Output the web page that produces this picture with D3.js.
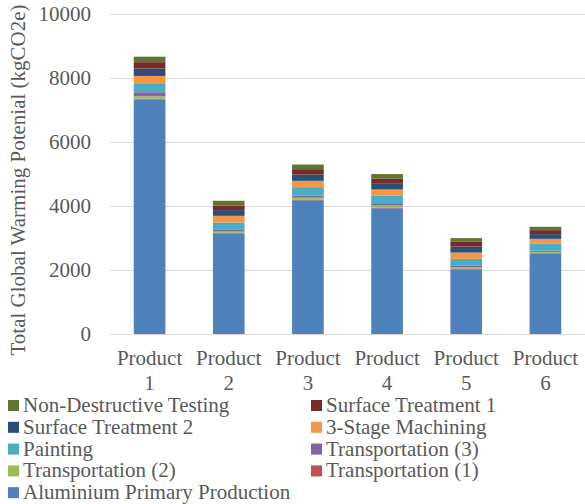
<!DOCTYPE html>
<html><head><meta charset="utf-8">
<script src="https://cdn.jsdelivr.net/npm/d3@7"></script>
<style>html,body{margin:0;padding:0;background:#fff;}svg{display:block;}
text{font-family:"Liberation Serif","Times New Roman",Times,serif;}</style>
</head><body>
<script>
const products = ["Product 1","Product 2","Product 3","Product 4","Product 5","Product 6"];
const seriesNames = ["Aluminium Primary Production","Transportation (1)","Transportation (2)","Transportation (3)","Painting","3-Stage Machining","Surface Treatment 2","Surface Treatment 1","Non-Destructive Testing"];
const aluminium = [7330, 3140, 4180, 3930, 2025, 2515];
const transport1 = [20, 20, 20, 20, 20, 20];
const transport2 = [80, 41, 63, 63, 42, 31];
const transport3 = [125, 53, 63, 75, 42, 42];
const painting = [280, 229, 263, 230, 219, 209];
const machining = [230, 210, 197, 198, 198, 157];
const surface2 = [230, 179, 197, 178, 188, 147];
const surface1 = [200, 144, 169, 167, 146, 125];
const ndt = [170, 147, 144, 137, 115, 104];
const yTicks = [0, 2000, 4000, 6000, 8000, 10000];
const legendOrder = ["Non-Destructive Testing","Surface Treatment 1","Surface Treatment 2","3-Stage Machining","Painting","Transportation (3)","Transportation (2)","Transportation (1)","Aluminium Primary Production"];
const colors = ["#4F81BD","#C0504D","#9BBB59","#8064A2","#4BACC6","#F79646","#2C4D75","#772C2A","#5F7530"];

const allSeries = [aluminium, transport1, transport2, transport3, painting, machining, surface2, surface1, ndt];
const table = products.map((p, i) => {
  const row = {product: p};
  seriesNames.forEach((s, j) => row[s] = allSeries[j][i]);
  return row;
});

const W = 585, H = 504;
const svg = d3.select("body").append("svg").attr("width", W).attr("height", H);
const grey = "#595959";
const fs = "21px";

const x = d3.scaleBand().domain(products).range([110, 585]).paddingInner(0.6).paddingOuter(0.3);
const y = d3.scaleLinear().domain([0, 10000]).range([334, 14]);
const color = d3.scaleOrdinal().domain(seriesNames).range(colors);

svg.append("g").selectAll("line").data(yTicks).join("line")
  .attr("x1", 110).attr("x2", 585)
  .attr("y1", d => y(d) + 0.5).attr("y2", d => y(d) + 0.5)
  .attr("stroke", "#D9D9D9").attr("stroke-width", 1);

const yAxis = d3.axisLeft(y).tickValues(yTicks).tickSize(0).tickPadding(0).tickFormat(d3.format("d"));
const yg = svg.append("g").attr("transform", "translate(91,0)").call(yAxis);
yg.select(".domain").remove();
yg.attr("font-family", null).attr("font-size", null);
yg.selectAll("text").style("font-size", fs).attr("fill", grey);

const stacked = d3.stack().keys(seriesNames)(table);
svg.append("g").selectAll("g").data(stacked).join("g")
  .attr("fill", d => color(d.key))
  .selectAll("rect").data(d => d).join("rect")
  .attr("x", d => x(d.data.product))
  .attr("width", x.bandwidth())
  .attr("y", d => y(d[1]))
  .attr("height", d => y(d[0]) - y(d[1]));

const xg = svg.append("g");
products.forEach(p => {
  const parts = p.split(" ");
  const cx = x(p) + x.bandwidth() / 2;
  const t = xg.append("text").attr("x", cx).attr("y", 365)
    .attr("text-anchor", "middle").style("font-size", fs).attr("fill", grey);
  t.append("tspan").attr("x", cx).attr("dy", 0).text(parts[0]);
  t.append("tspan").attr("x", cx).attr("dy", 25).text(parts[1]);
});

svg.append("text").attr("transform", "translate(25,180) rotate(-90)")
  .attr("text-anchor", "middle").style("font-size", fs).attr("fill", grey)
  .text("Total Global Warming Potenial (kgCO2e)");

const lg = svg.append("g");
legendOrder.forEach((name, i) => {
  const col = i % 2, row = Math.floor(i / 2);
  const lx = col === 0 ? 8 : 311;
  const cy = 405 + row * 21.8;
  lg.append("rect").attr("x", lx).attr("y", cy - 5).attr("width", 11).attr("height", 11).attr("fill", color(name));
  lg.append("text").attr("x", lx + 15).attr("y", cy + 7).style("font-size", fs).attr("fill", grey).text(name);
});
</script>
</body></html>
